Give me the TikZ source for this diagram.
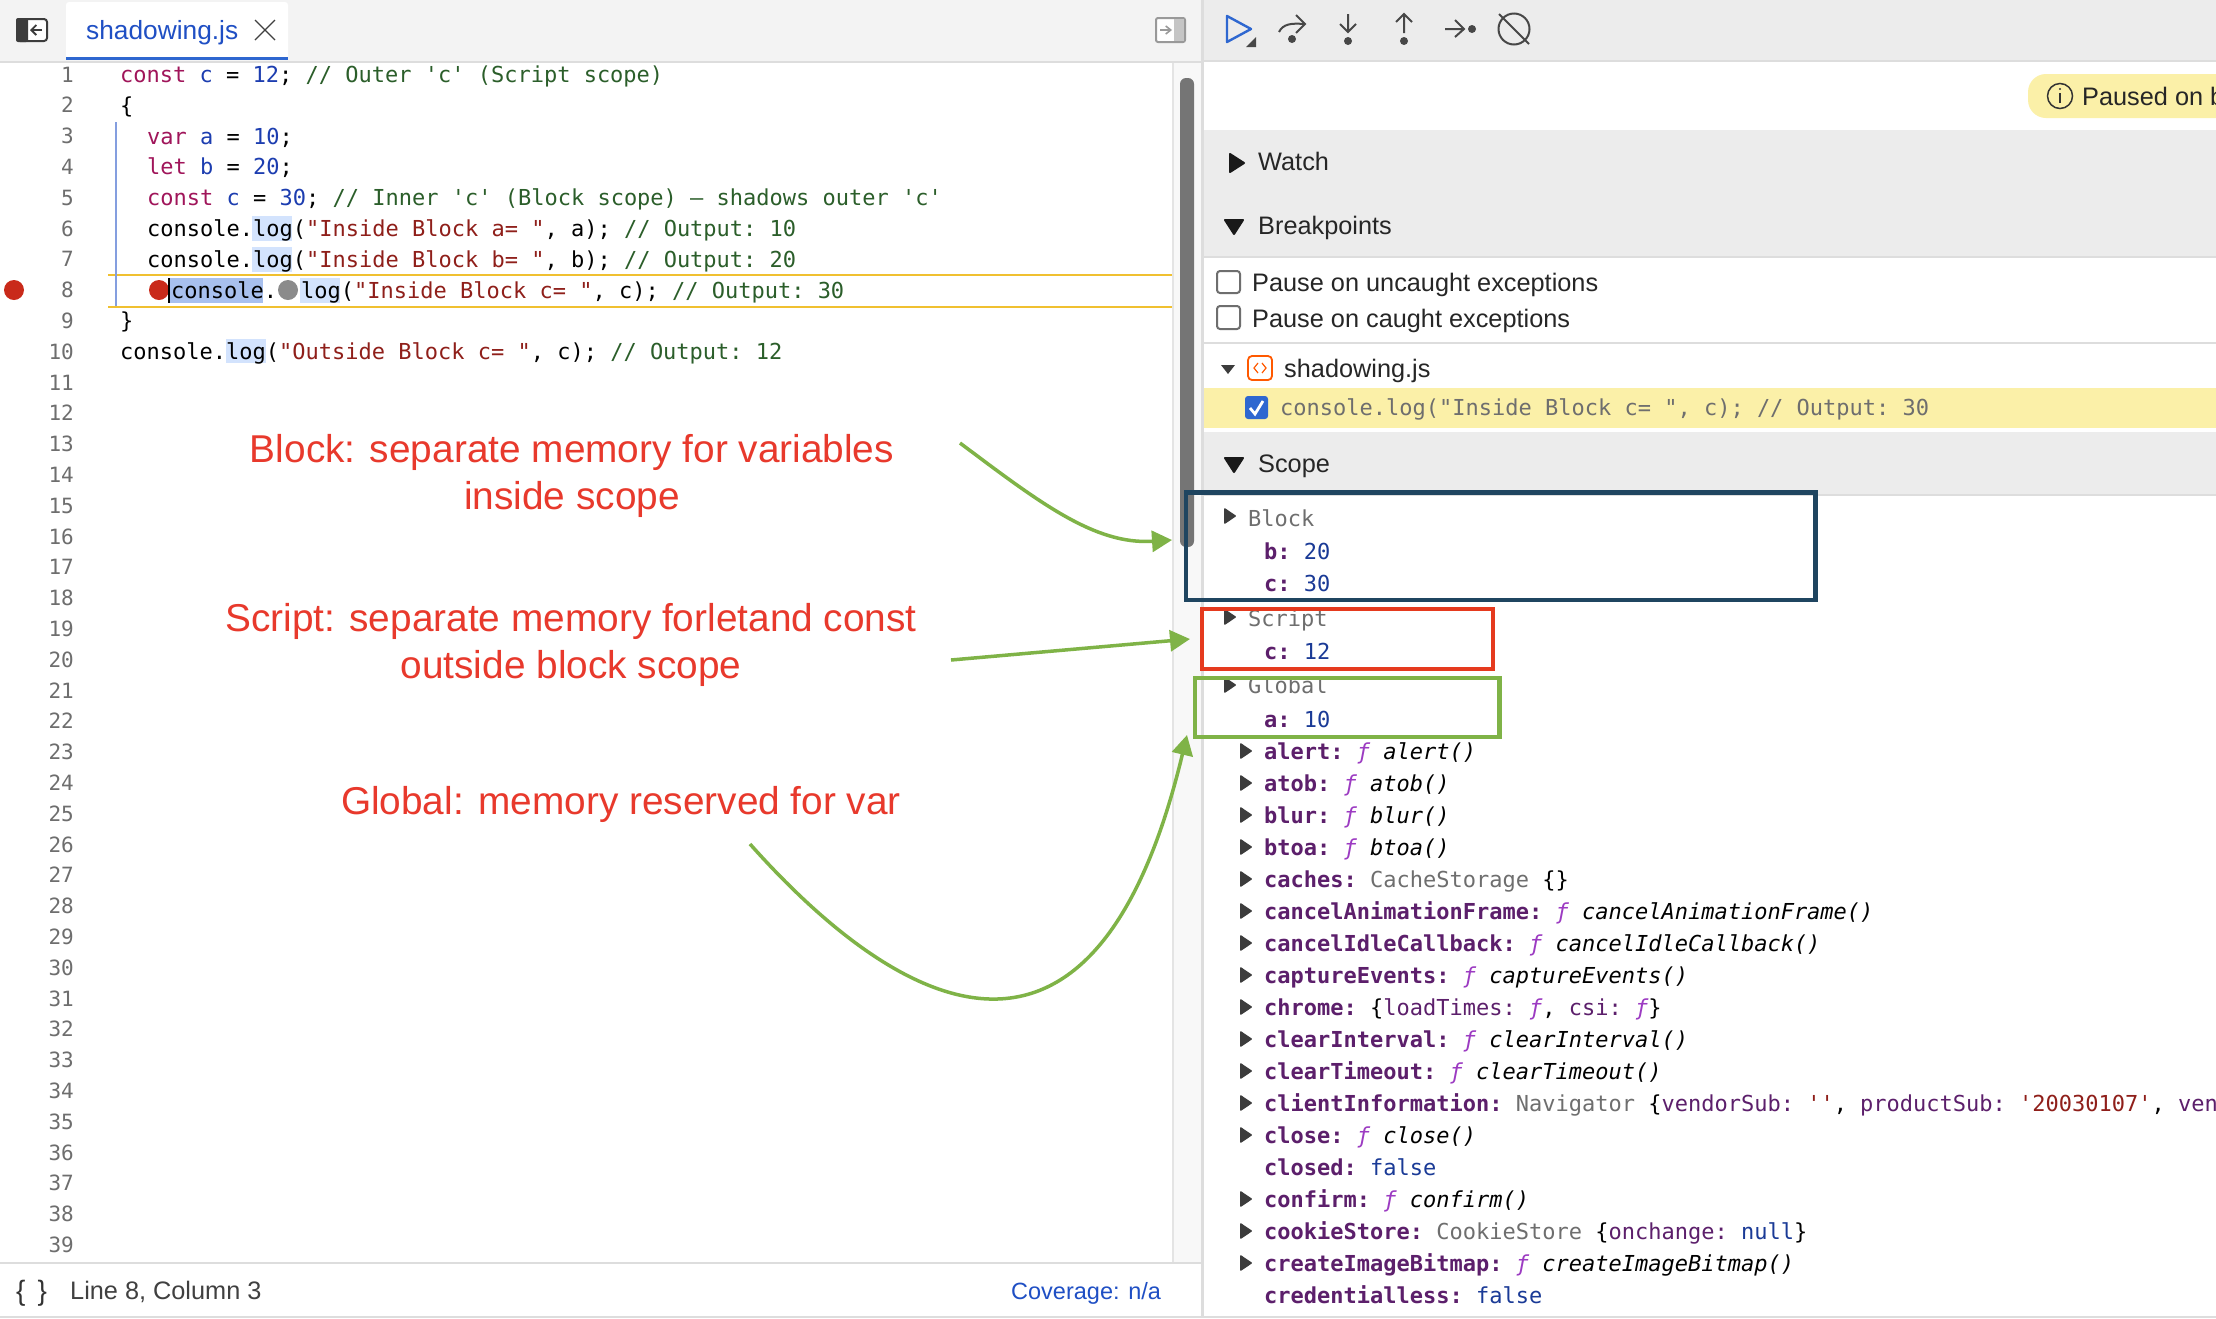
\documentclass[tikz,border=0pt]{standalone}
\usepackage{fontspec}
\setmainfont{Liberation Sans}
\setmonofont{DejaVu Sans Mono}
\definecolor{kw}{HTML}{A0155A}
\definecolor{numc}{HTML}{1C3DB0}
\definecolor{cmt}{HTML}{2B5E2A}
\definecolor{strc}{HTML}{8F1F1A}
\definecolor{keyc}{HTML}{5C1F6B}
\definecolor{valc}{HTML}{1A3A96}
\definecolor{fnc}{HTML}{9C3BC2}
\definecolor{greyt}{HTML}{6E6E6E}
\definecolor{panel}{HTML}{ECECEC}
\definecolor{header}{HTML}{F3F3F3}
\definecolor{rulec}{HTML}{DDDDDD}
\definecolor{hl}{HTML}{D3E3FD}
\definecolor{hlstrong}{HTML}{A8C0EE}
\definecolor{linehl}{HTML}{F0C030}
\definecolor{bpred}{HTML}{C92A1A}
\definecolor{pale}{HTML}{FBF0A8}
\definecolor{navyb}{HTML}{1F4560}
\definecolor{redb}{HTML}{E53A1E}
\definecolor{greenb}{HTML}{7FB347}
\definecolor{annot}{HTML}{E8392C}
\definecolor{bluet}{HTML}{1F4FC4}
\definecolor{tabline}{HTML}{2E67D0}
\definecolor{darktri}{HTML}{3C3C3C}
\definecolor{icon}{HTML}{474747}
\definecolor{gutter}{HTML}{F8F8F8}
\usetikzlibrary{arrows.meta}
\newcommand\cK[1]{\textcolor{kw}{#1}}
\newcommand\cN[1]{\textcolor{numc}{#1}}
\newcommand\cC[1]{\textcolor{cmt}{#1}}
\newcommand\cS[1]{\textcolor{strc}{#1}}
\newcommand\pK[1]{\textcolor{keyc}{\bfseries #1}}
\newcommand\pV[1]{\textcolor{valc}{#1}}
\newcommand\pG[1]{\textcolor{greyt}{#1}}
\newcommand\pF[1]{\textcolor{fnc}{\itshape ƒ}\ {\itshape #1}}
\newcommand\triR[2]{\filldraw[darktri,line width=1.5pt,line join=round] (#1-5.2,#2-7) -- (#1+5.2,#2) -- (#1-5.2,#2+7) -- cycle;}
\newcommand\triB[2]{\filldraw[black!90,line width=2pt,line join=round] (#1-7,#2-9) -- (#1+7,#2) -- (#1-7,#2+9) -- cycle;}
\newcommand\triD[2]{\filldraw[black!90,line width=2pt,line join=round] (#1-9,#2-7) -- (#1+9,#2-7) -- (#1,#2+7) -- cycle;}
\tikzset{
  x=1pt,y=-1pt,
  code/.style={anchor=base west,inner sep=0pt,font=\fontsize{22}{26}\selectfont\ttfamily},
  linenum/.style={anchor=base east,inner sep=0pt,text=greyt,font=\fontsize{21}{26}\selectfont\ttfamily},
  ui/.style={anchor=base west,inner sep=0pt,text=black!85,font=\fontsize{25.3}{28}\selectfont},
  annotation/.style={anchor=base,inner sep=0pt,text=annot,font=\fontsize{38.8}{46}\selectfont},
  scopebox/.style={line width=4.5pt},
  ann/.style={draw=greenb,line width=3.5pt,-{Triangle[length=20pt,width=21pt]}},
  iconline/.style={draw=icon,line width=2pt},
  check/.style={draw=greyt,line width=2pt,fill=white,rounded corners=3pt},
}
\begin{document}
\begin{tikzpicture}
\useasboundingbox (0,0) rectangle (2216,1318);
\clip (0,0) rectangle (2216,1318);
\fill[white] (0,0) rectangle (2216,1318);
% left header
\fill[header] (0,0) rectangle (1203,61);
\fill[rulec] (0,61) rectangle (1203,63);
\fill[white,rounded corners=3pt] (66,2) rectangle (288,60);
\fill[tabline] (66,57) rectangle (288,60);
% sidebar toggle left
\draw[darktri,line width=2pt,fill=white,rounded corners=3pt] (17,19) rectangle (47,41);
\fill[darktri,rounded corners=2pt] (16,18) rectangle (28,42);
\draw[darktri,line width=1.8pt,-{Straight Barb[length=5pt,width=10pt]}] (42,30) -- (30,30);
\draw[iconline,draw=greyt!70,fill=white,rounded corners=2pt] (1156,18) rectangle (1185,42);
\fill[greyt!40] (1174,19) rectangle (1184,41);
\draw[greyt!70,line width=1.6pt,-{Straight Barb[length=5pt,width=8pt]}] (1160,30) -- (1172,30);
\node[ui,text=bluet,font=\fontsize{26.3}{28}\selectfont] (tabname) at (86,39) {shadowing.js};
\draw[black!75,line width=1.4pt] (255,20) -- (275,40) (275,20) -- (255,40);
% code highlights
\fill[hl] (252,216) rectangle (292,241);
\fill[hl] (252,247) rectangle (292,272);
\fill[hlstrong] (169,278) rectangle (263,303);
\fill[hl] (300,278) rectangle (340,303);
\fill[hl] (226,339) rectangle (266,363);
\draw[linehl,line width=2pt] (108,275) -- (1172,275) (108,307) -- (1172,307);
\draw[bluet!55!white,line width=2pt] (116,122) -- (116,306);
\fill[gutter] (1172,63) rectangle (1201,1263);
\fill[rulec!80] (1172,63) rectangle (1174,1263);
\fill[greyt!95!white,rounded corners=6pt] (1180,78) rectangle (1194,547);
% line numbers
\foreach \i in {1,...,39} {
  \node[linenum] (n\i) at (74,{82+(\i-1)*30.8}) {\i};
}
\fill[bpred] (14,290) ellipse [x radius=10,y radius=10];
\fill[bpred] (159,290) circle (10);
\fill[greyt!80!white] (288,290) circle (10);
\draw[black,line width=1.5pt] (169,278) -- (169,303);
% code
\node[code] (c1) at (120,82.5) {\cK{const} \textcolor{numc}{c} = \cN{12}; \cC{// Outer 'c' (Script scope)}};
\node[code] (c2) at (120,113.3) {\{};
\node[code] (c3) at (147,144.1) {\cK{var} \textcolor{numc}{a} = \cN{10};};
\node[code] (c4) at (147,174.9) {\cK{let} \textcolor{numc}{b} = \cN{20};};
\node[code] (c5) at (147,205.7) {\cK{const} \textcolor{numc}{c} = \cN{30}; \cC{// Inner 'c' (Block scope) – shadows outer 'c'}};
\node[code] (c6) at (147,236.5) {console.log(\cS{"Inside Block a= "}, a); \cC{// Output: 10}};
\node[code] (c7) at (147,267.3) {console.log(\cS{"Inside Block b= "}, b); \cC{// Output: 20}};
\node[code] (c8a) at (171,298.1) {console.};
\node[code] (c8b) at (301,298.1) {log(\cS{"Inside Block c= "}, c); \cC{// Output: 30}};
\node[code] (c9) at (120,328.9) {\}};
\node[code] (c10) at (120,359.7) {console.log(\cS{"Outside Block c= "}, c); \cC{// Output: 12}};
% status bar
\fill[rulec] (0,1262) rectangle (1203,1264);
\fill[rulec] (0,1316) rectangle (2216,1318);
\node[ui,text=black!80,font=\fontsize{28}{30}\selectfont] (brace) at (16,1300) {\{\kern12pt\}};
\node[ui,text=black!75] (stat) at (70,1299) {Line 8, Column 3};
\node[ui,text=bluet,font=\fontsize{23.5}{28}\selectfont] (cov) at (1011,1299) {Coverage: n/a};
% right panel
\fill[panel] (1204,0) rectangle (2216,60);
\fill[rulec] (1204,60) rectangle (2216,62);
\fill[panel] (1204,130) rectangle (2216,256);
\fill[rulec] (1204,256) rectangle (2216,258);
\fill[rulec] (1204,342) rectangle (2216,344);
\fill[pale] (1204,388) rectangle (2216,428);
\fill[panel] (1204,432) rectangle (2216,494);
\fill[rulec] (1204,494) rectangle (2216,496);
\fill[rulec] (1201,0) rectangle (1204,1318);
% toolbar icons
\draw[tabline,line width=2.4pt,line join=round] (1227,16) -- (1251,29) -- (1227,42) -- cycle;
\fill[icon] (1256,37) -- (1256,47) -- (1246,47) -- cycle;
\draw[iconline] (1279,32) .. controls (1283,24) and (1291,23) .. (1304,24);
\draw[iconline] (1296,15) -- (1305,24) -- (1296,33);
\fill[icon] (1292,39) circle (4);
\draw[iconline] (1348,14) -- (1348,32) (1340,24) -- (1348,32) -- (1356,24);
\fill[icon] (1348,41) circle (4);
\draw[iconline] (1404,14) -- (1404,33) (1396,22) -- (1404,14) -- (1412,22);
\fill[icon] (1404,41) circle (4);
\draw[iconline] (1445,29) -- (1463,29) (1455,20) -- (1464,29) -- (1455,37);
\fill[icon] (1472,29) circle (4);
\draw[iconline] (1514,29) circle (15.5);
\draw[iconline] (1499,14) -- (1529,44);
% pill
\fill[pale,rounded corners=18pt] (2028,74) rectangle (2300,118);
\draw[black!80,line width=1.5pt] (2060,96) circle (12.5);
\fill[black!80] (2060,89) circle (1.2);
\draw[black!80,line width=1.5pt] (2060,93) -- (2060,103);
\node[ui] (paused) at (2082,105) {Paused on b};
% sections
\triB{1237}{163}
\node[ui] (watch) at (1258,170) {Watch};
\triD{1234}{227}
\node[ui] (bps) at (1258,234) {Breakpoints};
\draw[check] (1217,271) rectangle (1240,293);
\node[ui] (p1) at (1252,291) {Pause on uncaught exceptions};
\draw[check] (1217,306) rectangle (1240,329);
\node[ui] (p2) at (1252,327) {Pause on caught exceptions};
\fill[darktri] (1221,365) -- (1235,365) -- (1228,374) -- cycle;
\draw[draw=orange!70!red,line width=1.8pt,rounded corners=4pt,fill=white] (1248,356) rectangle (1272,380);
\draw[orange!70!red,line width=1.2pt] (1258,363) -- (1254,368) -- (1258,373) (1262,363) -- (1266,368) -- (1262,373);
\node[ui] (sjs) at (1284,377) {shadowing.js};
\fill[tabline,rounded corners=3pt] (1245,396) rectangle (1268,419);
\draw[white,line width=2.8pt] (1250,408) -- (1255,414) -- (1263,401);
\node[code,text=greyt] (bpline) at (1280,415) {console.log("Inside Block c= ", c); // Output: 30};
\triD{1234}{465}
\node[ui] (scope) at (1258,472) {Scope};
% scope tree
\triR{1230}{516}
\node[code,text=greyt] (sB) at (1248,526) {Block};
\node[code] (b1) at (1264,559) {\pK{b:} \pV{20}};
\node[code] (b2) at (1264,591) {\pK{c:} \pV{30}};
\triR{1230}{617}
\node[code,text=greyt] (sS) at (1248,626) {Script};
\node[code] (s1) at (1264,659) {\pK{c:} \pV{12}};
\triR{1230}{685}
\node[code,text=greyt] (sG) at (1248,693) {Global};
\node[code] (g1) at (1264,727) {\pK{a:} \pV{10}};
\foreach \yy in {751,783,815,847,879,911,943,975,1007,1039,1071,1103,1135,1199,1231,1263} {
  \triR{1246}{\yy}
}
\node[code] (t1) at (1264,759) {\pK{alert:} \pF{alert()}};
\node[code] (t2) at (1264,791) {\pK{atob:} \pF{atob()}};
\node[code] (t3) at (1264,823) {\pK{blur:} \pF{blur()}};
\node[code] (t4) at (1264,855) {\pK{btoa:} \pF{btoa()}};
\node[code] (t5) at (1264,887) {\pK{caches:} \pG{CacheStorage} \{\}};
\node[code] (t6) at (1264,919) {\pK{cancelAnimationFrame:} \pF{cancelAnimationFrame()}};
\node[code] (t7) at (1264,951) {\pK{cancelIdleCallback:} \pF{cancelIdleCallback()}};
\node[code] (t8) at (1264,983) {\pK{captureEvents:} \pF{captureEvents()}};
\node[code] (t9) at (1264,1015) {\pK{chrome:} \{\textcolor{keyc}{loadTimes:} \textcolor{fnc}{\itshape ƒ}, \textcolor{keyc}{csi:} \textcolor{fnc}{\itshape ƒ}\}};
\node[code] (t10) at (1264,1047) {\pK{clearInterval:} \pF{clearInterval()}};
\node[code] (t11) at (1264,1079) {\pK{clearTimeout:} \pF{clearTimeout()}};
\node[code] (t12) at (1264,1111) {\pK{clientInformation:} \pG{Navigator} \{\textcolor{keyc}{vendorSub:} \cS{''}, \textcolor{keyc}{productSub:} \cS{'20030107'}, \textcolor{keyc}{ven}};
\node[code] (t13) at (1264,1143) {\pK{close:} \pF{close()}};
\node[code] (t14) at (1264,1175) {\pK{closed:} \pV{false}};
\node[code] (t15) at (1264,1207) {\pK{confirm:} \pF{confirm()}};
\node[code] (t16) at (1264,1239) {\pK{cookieStore:} \pG{CookieStore} \{\textcolor{keyc}{onchange:} \pV{null}\}};
\node[code] (t17) at (1264,1271) {\pK{createImageBitmap:} \pF{createImageBitmap()}};
\node[code] (t18) at (1264,1303) {\pK{credentialless:} \pV{false}};
% boxes
\draw[scopebox,navyb] (1186,492.5) rectangle (1815.5,600);
\draw[scopebox,redb] (1202,609) rectangle (1493,669);
\draw[scopebox,greenb] (1195,678) rectangle (1499.5,737);
% annotations
\node[annotation] (a1a) at (572,462) {Block: separate memory for variables};
\node[annotation] (a1b) at (572,509) {inside scope};
\node[annotation] (a2a) at (571,631) {Script: separate memory forletand const};
\node[annotation] (a2b) at (571,678) {outside block scope};
\node[annotation] (a3) at (621,814) {Global: memory reserved for var};
% arrows
\coordinate (s1) at (960,443);
\coordinate (e1) at (1172,540);
\coordinate (s2) at (951,660);
\coordinate (e2) at (1190,639);
\coordinate (s3) at (750,844);
\coordinate (e3) at (1187,735);
\draw[ann] (s1) .. controls (1040,503) and (1095,545) .. (e1);
\draw[ann] (s2) -- (e2);
\draw[ann] (s3) .. controls (880,990) and (1090,1140) .. (e3);
\end{tikzpicture}
\end{document}
